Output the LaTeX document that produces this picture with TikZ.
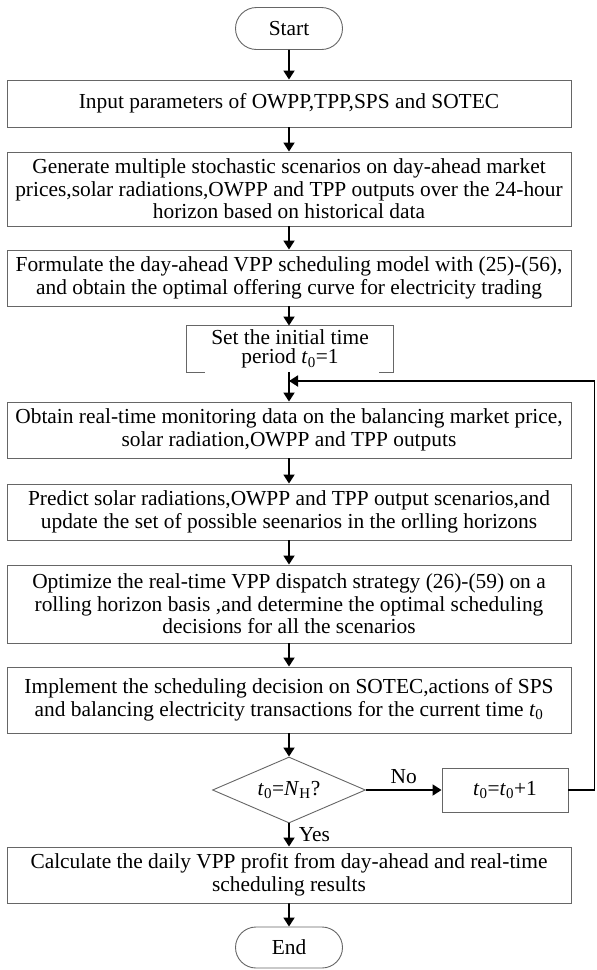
\documentclass[tikz,border=0pt]{standalone}
\usepackage{fontspec}
\setmainfont{Liberation Serif}
\usetikzlibrary{shapes.geometric,shapes.misc,arrows.meta}
\newcommand{\tsb}[2]{\textit{#1}\textsubscript{#2}}
\begin{document}
\begin{tikzpicture}[x=1pt,y=-1pt,
  box/.style={draw=black!60, line width=0.9pt, fill=white, align=center, inner sep=0pt, font=\fontsize{21.4}{22.5}\selectfont},
  wide/.style={box, minimum width=564pt},
  term/.style={box, rounded rectangle, minimum width=107pt, minimum height=42pt},
  lbl/.style={font=\fontsize{21.4}{22.5}\selectfont, inner sep=0pt},
  edge/.style={draw=black!60, line width=0.9pt},
  arr/.style={-{Triangle[length=9pt,width=11pt]}, line width=1.8pt}]
\useasboundingbox (0,0) rectangle (597,970);
\node[term] (start) at (289,28.5) {Start};
\node[wide, minimum height=47pt] (b1) at (289,103.5) {Input parameters of OWPP,TPP,SPS and SOTEC};
\node[wide, minimum height=74pt] (b2) at (289,189) {Generate multiple stochastic scenarios on day-ahead market\\prices,solar radiations,OWPP and TPP outputs over the 24-hour\\horizon based on historical data};
\node[wide, minimum height=56pt] (b3) at (289,278) {Formulate the day-ahead VPP scheduling model with (25)-(56),\\and obtain the optimal offering curve for electricity trading};
\node[box, draw=none, fill=none, minimum width=206pt, minimum height=46pt, font=\fontsize{21.4}{19.5}\selectfont] (b4) at (290,349) {Set the initial time\\period \tsb{t}{0}=1};
\draw[edge] ([xshift=18pt]b4.south west) -- (b4.south west) -- (b4.north west) -- (b4.north east) -- (b4.south east) -- ([xshift=-14pt]b4.south east);
\node[wide, minimum height=56pt] (b5) at (289,430) {Obtain real-time monitoring data on the balancing market price,\\solar radiation,OWPP and TPP outputs};
\node[wide, minimum height=56pt] (b6) at (289,512) {Predict solar radiations,OWPP and TPP output scenarios,and\\update the set of possible seenarios in the orlling horizons};
\node[wide, minimum height=78pt] (b7) at (289,604) {Optimize the real-time VPP dispatch strategy (26)-(59) on a\\rolling horizon basis ,and determine the optimal scheduling\\decisions for all the scenarios};
\node[wide, minimum height=66pt] (b8) at (289,700) {Implement the scheduling decision on SOTEC,actions of SPS\\and balancing electricity transactions for the current time \tsb{t}{0}};
\node[box, diamond, aspect=2.33, minimum width=153pt, minimum height=66pt] (dia) at (289,790) {\tsb{t}{0}=\tsb{N}{H}?};
\node[box, minimum width=126pt, minimum height=44pt] (inc) at (505,790) {\tsb{t}{0}=\tsb{t}{0}+1};
\node[wide, minimum height=56pt] (b9) at (289,875) {Calculate the daily VPP profit from day-ahead and real-time\\scheduling results};
\node[term, minimum height=41pt] (end) at (289,947.5) {End};
\coordinate (fb) at (289,381);
\coordinate (rc) at (594.5,790);
\draw[arr] (start) -- (b1);
\draw[arr] (b1) -- (b2);
\draw[arr] (b2) -- (b3);
\draw[arr] (b3) -- (b3 |- b4.north);
\draw[arr] (b3 |- b4.south) -- (b5);
\draw[arr] (b5) -- (b6);
\draw[arr] (b6) -- (b7);
\draw[arr] (b7) -- (b8);
\draw[arr] (b8) -- (dia);
\draw[arr] (dia) -- node[lbl, above=5pt] {No} (inc);
\draw[arr] (dia) -- node[lbl, right=9pt] {Yes} (b9);
\draw[arr] (b9) -- (end);
\draw[arr] (inc.east) -- (rc) |- (fb);
\end{tikzpicture}
\end{document}
